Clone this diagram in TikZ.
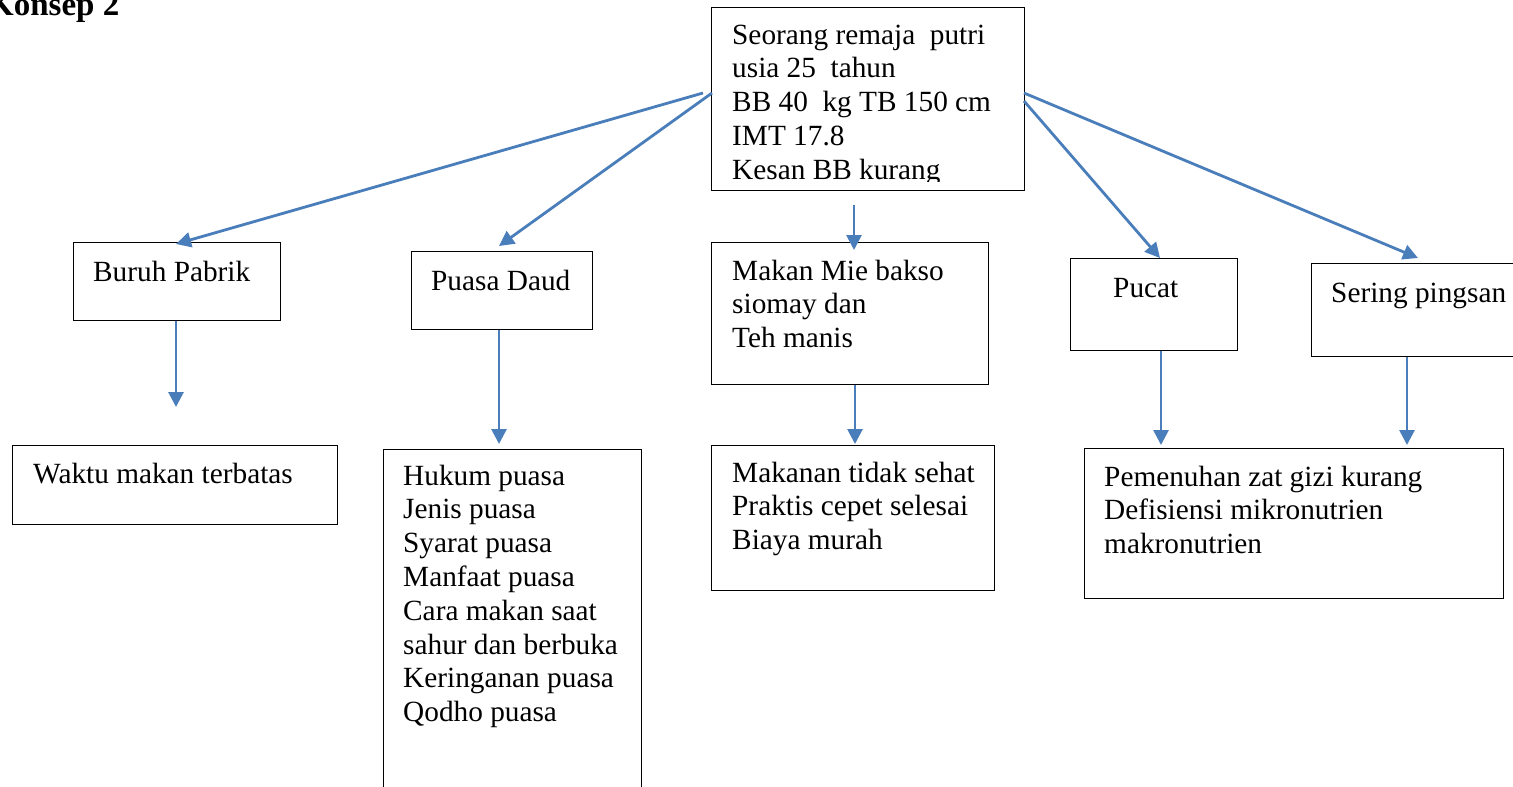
\documentclass[tikz,border=0pt]{standalone}
\usepackage{fontspec}
\setmainfont{Liberation Serif}
\usetikzlibrary{arrows.meta}
\definecolor{arrowblue}{HTML}{4A7EBB}
\begin{document}
\begin{tikzpicture}[x=1pt,y=-1pt,
  box/.style={draw=black, line width=1.2pt, rectangle, inner sep=0pt, anchor=north west},
  txt/.style={inner sep=0pt, anchor=north west, align=left, font=\fontsize{29.3}{33.8}\selectfont},
  conn/.style={draw=arrowblue, line width=2.8pt, -{Triangle[length=15pt,width=15pt]}}]
\useasboundingbox (0,0) rectangle (1513,787);

% heading
\node[inner sep=0pt, anchor=base west, font=\fontsize{33}{38}\selectfont\bfseries] (title) at (-12,16) {Konsep 2};

% top box
\node[box, minimum width=313, minimum height=183] (top) at (711,7) {};
\begin{scope}
  \clip (711,7) rectangle (1024,181);
  \node[txt] (toptext) at (732,20.3) {\strut Seorang remaja\ \ putri\\\strut usia 25\ \ tahun\\\strut BB 40\ \ kg TB 150 cm\\\strut IMT 17.8\\\strut Kesan BB kurang};
\end{scope}

% second row
\node[box, minimum width=207, minimum height=78] (buruh) at (73,242) {};
\node[txt] (buruhtext) at (93,257.3) {\strut Buruh Pabrik};
\node[box, minimum width=181, minimum height=78] (puasa) at (411,251) {};
\node[txt] (puasatext) at (431,266.3) {\strut Puasa Daud};
\node[box, minimum width=277, minimum height=142] (makan) at (711,242) {};
\node[txt] (makantext) at (732,256.3) {\strut Makan Mie bakso\\\strut siomay dan\\\strut Teh manis};
\node[box, minimum width=167, minimum height=92] (pucat) at (1070,258) {};
\node[txt] (pucattext) at (1113,273.3) {\strut Pucat};
\node[box, minimum width=230, minimum height=93] (sering) at (1311,263) {};
\node[txt] (seringtext) at (1331,278.3) {\strut Sering pingsan};

% third row
\node[box, minimum width=325, minimum height=79] (waktu) at (12,445) {};
\node[txt] (waktutext) at (33,459.3) {\strut Waktu makan terbatas};
\node[box, minimum width=258, minimum height=360] (hukum) at (383,449) {};
\node[txt] (hukumtext) at (403,461.3) {\strut Hukum puasa\\\strut Jenis puasa\\\strut Syarat puasa\\\strut Manfaat puasa\\\strut Cara makan saat\\\strut sahur dan berbuka\\\strut Keringanan puasa\\\strut Qodho puasa};
\node[box, minimum width=283, minimum height=145] (makanan) at (711,445) {};
\node[txt] (makanantext) at (732,458.3) {\strut Makanan tidak sehat\\\strut Praktis cepet selesai\\\strut Biaya murah};
\node[box, minimum width=419, minimum height=150] (gizi) at (1084,448) {};
\node[txt] (gizitext) at (1104,462.3) {\strut Pemenuhan zat gizi kurang\\\strut Defisiensi mikronutrien\\\strut makronutrien};

% connector end points
\coordinate (sA) at (703,93);
\coordinate (sB) at (712,93);
\coordinate (sC) at (854,205);
\coordinate (sD) at (1024,101);
\coordinate (sE) at (1024,93);
\coordinate (tA) at (176,244);
\coordinate (tB) at (499,246);
\coordinate (tC) at (854,250);
\coordinate (tD) at (1160,258);
\coordinate (tE) at (1418,258);
\coordinate (dA) at (176,407);
\coordinate (dB) at (499,444);
\coordinate (dC) at (855,444);
\coordinate (dD) at (1161,445);
\coordinate (dE) at (1407,445);

% connectors from top box
\draw[conn] (sA) -- (tA);
\draw[conn] (sB) -- (tB);
\draw[conn] (sC) -- (tC);
\draw[conn] (sD) -- (tD);
\draw[conn] (sE) -- (tE);

% downward connectors
\draw[conn] (buruh.south -| dA) -- (dA);
\draw[conn] (puasa.south -| dB) -- (dB);
\draw[conn] (makan.south -| dC) -- (dC);
\draw[conn] (pucat.south -| dD) -- (dD);
\draw[conn] (sering.south -| dE) -- (dE);
\end{tikzpicture}
\end{document}
